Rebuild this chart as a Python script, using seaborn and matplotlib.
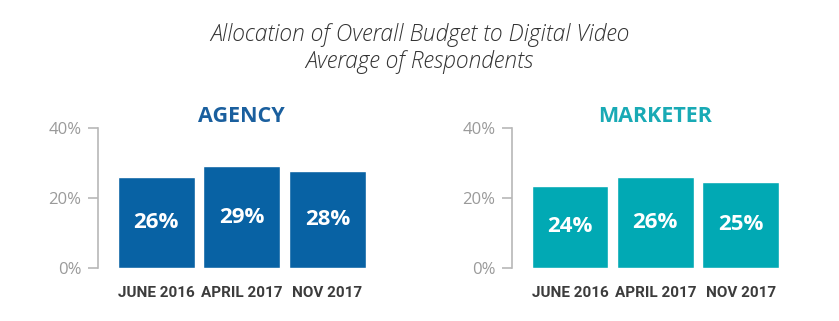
import matplotlib
matplotlib.use("Agg")
import matplotlib.pyplot as plt
import seaborn as sns
import pandas as pd

categories = ["JUNE 2016", "APRIL 2017", "NOV 2017"]
agency_values = [26.0, 29.1, 27.7]
agency_labels = ["26%", "29%", "28%"]
marketer_values = [23.5, 26.0, 24.6]
marketer_labels = ["24%", "26%", "25%"]
yticks = [0, 20, 40]
ytick_labels = ["0%", "20%", "40%"]

title = "Allocation of Overall Budget to Digital Video\nAverage of Respondents"

sns.set_theme(style="white")
plt.rcParams["font.family"] = ["Open Sans", "DejaVu Sans"]

W, H = 839, 321
fig = plt.figure(figsize=(W / 100, H / 100), dpi=100)

def px_axes(x0, x1, ytop, ybot):
    return fig.add_axes([x0 / W, (H - ybot) / H, (x1 - x0) / W, (ybot - ytop) / H])

panels = [
    (98, 366, "AGENCY", "#1a5f9e", "#0862a4", agency_values, agency_labels),
    (512, 779, "MARKETER", "#19aab5", "#01a9b4", marketer_values, marketer_labels),
]

for x0, x1, name, hcol, bcol, vals, labs in panels:
    ax = px_axes(x0, x1, 128, 268)
    df = pd.DataFrame({"cat": categories, "val": vals})
    sns.barplot(data=df, x="cat", y="val", ax=ax, color=bcol, saturation=1, width=0.9)
    ax.set_xlim(-0.68, 2.45)
    ax.set_ylim(0, 40)
    ax.set_yticks(yticks)
    ax.set_yticklabels(ytick_labels)
    ax.set_xlabel("")
    ax.set_ylabel("")
    for s in ["top", "right", "bottom"]:
        ax.spines[s].set_visible(False)
    ax.spines["left"].set_color("#b8b8b8")
    ax.spines["left"].set_linewidth(1.2)
    ax.tick_params(axis="y", which="both", left=True, length=7, width=1.2,
                   color="#b8b8b8", labelcolor="#9a9a9a", labelsize=12, pad=5)
    ax.tick_params(axis="x", bottom=False, labelcolor="#3c3c3c", pad=7)
    for t in ax.get_xticklabels():
        t.set_fontweight("bold")
        t.set_family(["Roboto", "DejaVu Sans"])
        t.set_fontsize(11)
    for p, lab in zip(ax.patches, labs):
        cx = p.get_x() + p.get_width() / 2
        cy = p.get_height() / 2
        ax.text(cx, cy, lab, ha="center", va="center", color="white",
                fontsize=16, fontweight="bold")
    ax.text(1, 1.085, name, transform=ax.get_xaxis_transform(), ha="center",
            va="center", color=hcol, fontsize=15.5, fontweight="bold")
    ax.set_facecolor("white")

fig.text(0.5, (H - 48.5) / H, title, ha="center", va="center", fontsize=16.5,
         style="italic", color="#333333", linespacing=1.22, fontweight="light")

fig.savefig("out.png", dpi=100, facecolor="white")
